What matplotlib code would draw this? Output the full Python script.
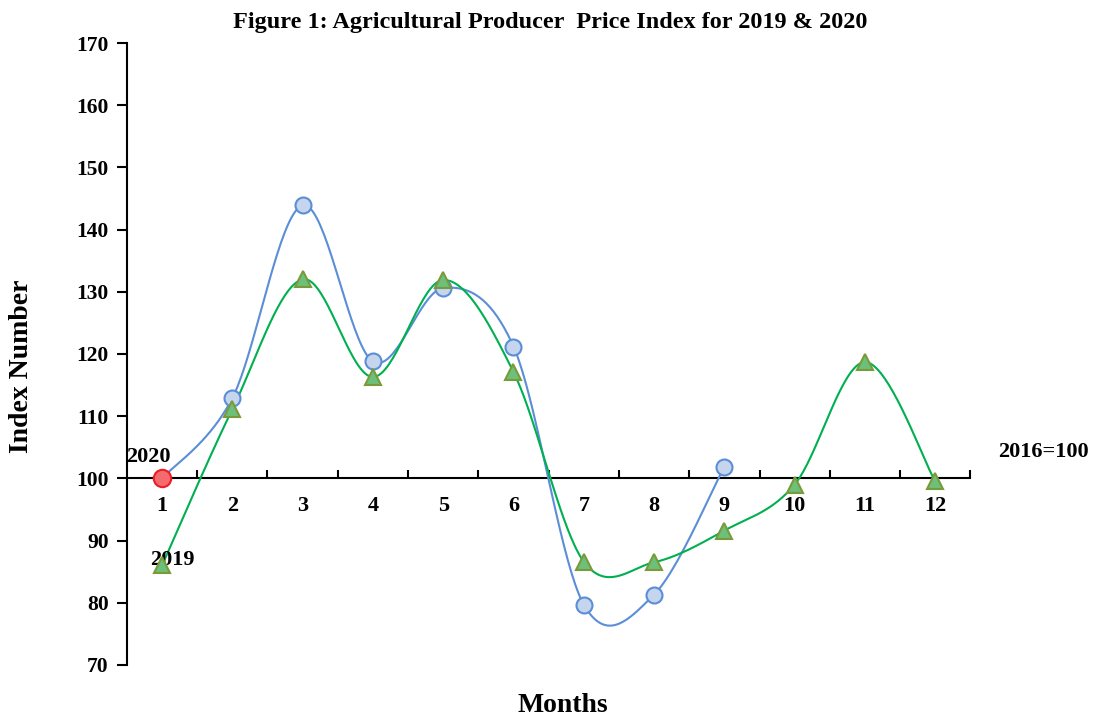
import numpy as np
import matplotlib.pyplot as plt

months = np.arange(1, 13)
ppi_2020 = [100.0, 112.9, 143.9, 118.8, 130.6, 121.2, 79.7, 81.3, 101.9]
ppi_2019 = [86.0, 111.1, 132.0, 116.3, 131.9, 117.1, 86.6, 86.5, 91.6, 99.0, 118.7, 99.5]


def smooth(x, y, n=40):
    # excel style smoothed line (catmull-rom through the points)
    x = np.asarray(x, float)
    y = np.asarray(y, float)
    px = np.concatenate([[x[0]], x, [x[-1]]])
    py = np.concatenate([[y[0]], y, [y[-1]]])
    t = np.linspace(0, 1, n)[:, None]
    xs, ys = [], []
    for i in range(1, len(px) - 2):
        p0 = np.array([px[i], py[i]])
        p3 = np.array([px[i + 1], py[i + 1]])
        c1 = p0 + (np.array([px[i + 1], py[i + 1]]) - np.array([px[i - 1], py[i - 1]])) / 6
        c2 = p3 - (np.array([px[i + 2], py[i + 2]]) - np.array([px[i], py[i]])) / 6
        b = ((1 - t) ** 3) * p0 + 3 * ((1 - t) ** 2) * t * c1 + 3 * (1 - t) * t ** 2 * c2 + t ** 3 * p3
        xs.append(b[:, 0])
        ys.append(b[:, 1])
    return np.concatenate(xs), np.concatenate(ys)


plt.rcParams['font.family'] = ['Liberation Serif', 'DejaVu Serif']
plt.rcParams['font.weight'] = 'bold'

fig = plt.figure(figsize=(10.94, 7.18), dpi=100)
ax = fig.add_axes([0.116, 0.074, 0.771, 0.866])

blue = '#5b8ed6'
green = '#00b050'

x20 = months[:len(ppi_2020)]
sx, sy = smooth(x20, ppi_2020)
ax.plot(sx, sy, color=blue, lw=1.5, zorder=3)
ax.plot(x20[1:], ppi_2020[1:], 'o', ms=11.5, mfc='#c5d5ee', mec=blue, mew=1.5, zorder=4)
ax.plot(x20[:1], ppi_2020[:1], 'o', ms=12.5, mfc='#f46a6f', mec='#ee1c24', mew=1.5, zorder=5)

sx, sy = smooth(months, ppi_2019)
ax.plot(sx, sy, color=green, lw=1.5, zorder=3)
ax.plot(months, ppi_2019, '^', ms=11, mfc='#6cc07a', mec='#7a9a3a', mew=1.5, zorder=4)

ax.set_xlim(0.5, 12.5)
ax.set_ylim(70, 170)
ax.set_yticks(np.arange(70, 171, 10))

ax.spines['top'].set_visible(False)
ax.spines['right'].set_visible(False)
ax.spines['bottom'].set_position(('data', 100))
ax.spines['left'].set_linewidth(1.5)
ax.spines['bottom'].set_linewidth(1.5)

ax.set_xticks(months)
ax.set_xticks(np.arange(1.5, 13, 1), minor=True)
ax.tick_params(axis='x', which='major', length=0, pad=13, labelsize=16)
ax.tick_params(axis='x', which='minor', direction='in', length=6, width=1.5)
ax.tick_params(axis='y', direction='out', length=7, width=1.5, labelsize=15.5, pad=6)
for lab in ax.get_xticklabels() + ax.get_yticklabels():
    lab.set_fontweight('bold')

fig.text(0.02, 0.49, 'Index Number', fontsize=20, fontweight='bold',
         rotation=90, ha='center', va='center')
fig.text(0.514, 0.018, 'Months', fontsize=20, fontweight='bold', ha='center', va='center')
fig.text(0.503, 0.969, 'Figure 1: Agricultural Producer  Price Index for 2019 & 2020',
         fontsize=17.5, fontweight='bold', ha='center', va='center')
fig.text(0.995, 0.371, '2016=100', fontsize=16, fontweight='bold', ha='right', va='center')

ax.text(0.8, 103.4, '2020', fontsize=16, fontweight='bold', ha='center', va='center')
ax.text(1.14, 86.8, '2019', fontsize=16, fontweight='bold', ha='center', va='center')

fig.savefig('out.png', dpi=100)
